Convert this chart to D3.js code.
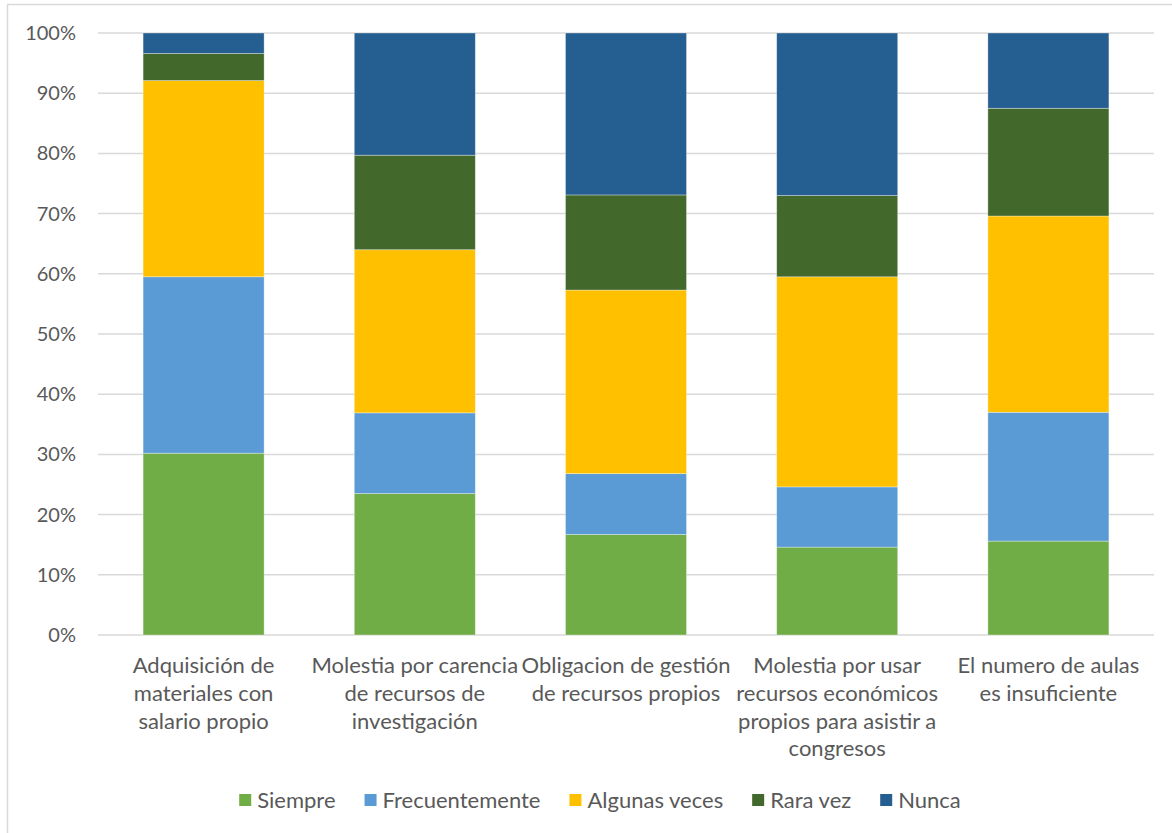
<!DOCTYPE html>
<html>
<head>
<meta charset="utf-8">
<script src="https://cdn.jsdelivr.net/npm/d3@7"></script>
<style>
  html, body { margin: 0; padding: 0; background: #fff; }
  svg { display: block; }
  text { font-family: "Lato", "Open Sans", sans-serif; fill: #595959; }
</style>
</head>
<body>
<svg id="chart" width="1172" height="833"></svg>
<script>
// ---- Data ----
const categories = [
  "Adquisición de\nmateriales con\nsalario propio",
  "Molestia por carencia\nde recursos de\ninvestigación",
  "Obligacion de gestión\nde recursos propios",
  "Molestia por usar\nrecursos económicos\npropios para asistir a\ncongresos",
  "El numero de aulas\nes insuficiente"
];
const seriesNames = ["Siempre", "Frecuentemente", "Algunas veces", "Rara vez", "Nunca"];
const siempre        = [30.2, 23.5, 16.7, 14.6, 15.6];
const frecuentemente = [29.3, 13.4, 10.1, 10.0, 21.4];
const algunasVeces   = [32.6, 27.1, 30.5, 34.9, 32.6];
const raraVez        = [4.5, 15.7, 15.8, 13.5, 17.9];
const nunca          = [3.4, 20.3, 26.9, 27.0, 12.5];
const yTicks = [0, 10, 20, 30, 40, 50, 60, 70, 80, 90, 100];
const colors = ["#70AD47", "#5B9BD5", "#FFC000", "#43682B", "#255E91"];

// ---- Layout ----
const svg = d3.select("#chart");
const plot = { left: 98, right: 1154, top: 33, bottom: 635 };
const tickFont = 20, labelFont = 22;

// outer chart border (only top/left visible in the frame)
svg.append("rect")
  .attr("x", 7.5).attr("y", 4.5).attr("width", 1180).attr("height", 850)
  .attr("fill", "none").attr("stroke", "#D9D9D9").attr("stroke-width", 1.5);

const x = d3.scaleBand().domain(categories).range([plot.left, plot.right]).padding(0);
const barW = x.bandwidth() / 1.745;
const y = d3.scaleLinear().domain([0, 100]).range([plot.bottom, plot.top]);

// gridlines
svg.append("g").selectAll("line").data(yTicks).join("line")
  .attr("x1", plot.left).attr("x2", plot.right)
  .attr("y1", d => y(d)).attr("y2", d => y(d))
  .attr("stroke", "#D9D9D9").attr("stroke-width", 1.5);

// y axis via d3.axisLeft
const yAxis = d3.axisLeft(y).tickValues(yTicks).tickFormat(d => d + "%").tickSize(0).tickPadding(22);
const yg = svg.append("g").attr("transform", `translate(${plot.left},0)`).call(yAxis);
yg.select(".domain").remove();
yg.selectAll("text").style("font-size", tickFont + "px").attr("fill", "#595959")
  .style("font-family", '"Lato", sans-serif');

// stacked data
const table = categories.map((c, i) => ({
  cat: c,
  "Siempre": siempre[i],
  "Frecuentemente": frecuentemente[i],
  "Algunas veces": algunasVeces[i],
  "Rara vez": raraVez[i],
  "Nunca": nunca[i]
}));
const stack = d3.stack().keys(seriesNames)(table);
const color = d3.scaleOrdinal().domain(seriesNames).range(colors);

svg.append("g").selectAll("g").data(stack).join("g")
  .attr("fill", d => color(d.key))
  .selectAll("rect").data(d => d).join("rect")
  .attr("x", d => x(d.data.cat) + (x.bandwidth() - barW) / 2)
  .attr("width", barW)
  .attr("y", d => y(d[1]))
  .attr("height", d => y(d[0]) - y(d[1]))
  .attr("stroke", "rgba(255,255,255,0.45)")
  .attr("stroke-width", 0.75);

// category labels
const xg = svg.append("g");
categories.forEach(c => {
  const lines = c.split("\n");
  const cx = x(c) + x.bandwidth() / 2;
  const t = xg.append("text")
    .attr("x", cx)
    .attr("y", 673)
    .attr("text-anchor", "middle")
    .style("font-size", labelFont + "px");
  lines.forEach((l, i) => {
    t.append("tspan").attr("x", cx).attr("dy", i === 0 ? 0 : 27.8).text(l);
  });
});

// legend
const legend = svg.append("g");
const sq = 12, gapText = 6, gapItem = 29;
const items = seriesNames.map(name => {
  const g = legend.append("g");
  g.append("rect").attr("width", sq).attr("height", sq).attr("y", -sq / 2).attr("fill", color(name));
  const t = g.append("text").attr("x", sq + gapText).attr("dy", "0.35em")
    .style("font-size", labelFont + "px").text(name);
  return { g, w: sq + gapText + t.node().getComputedTextLength() };
});
const total = d3.sum(items, d => d.w) + gapItem * (items.length - 1);
let lx = 600 - total / 2;
items.forEach(it => {
  it.g.attr("transform", `translate(${lx},800)`);
  lx += it.w + gapItem;
});
</script>
</body>
</html>
